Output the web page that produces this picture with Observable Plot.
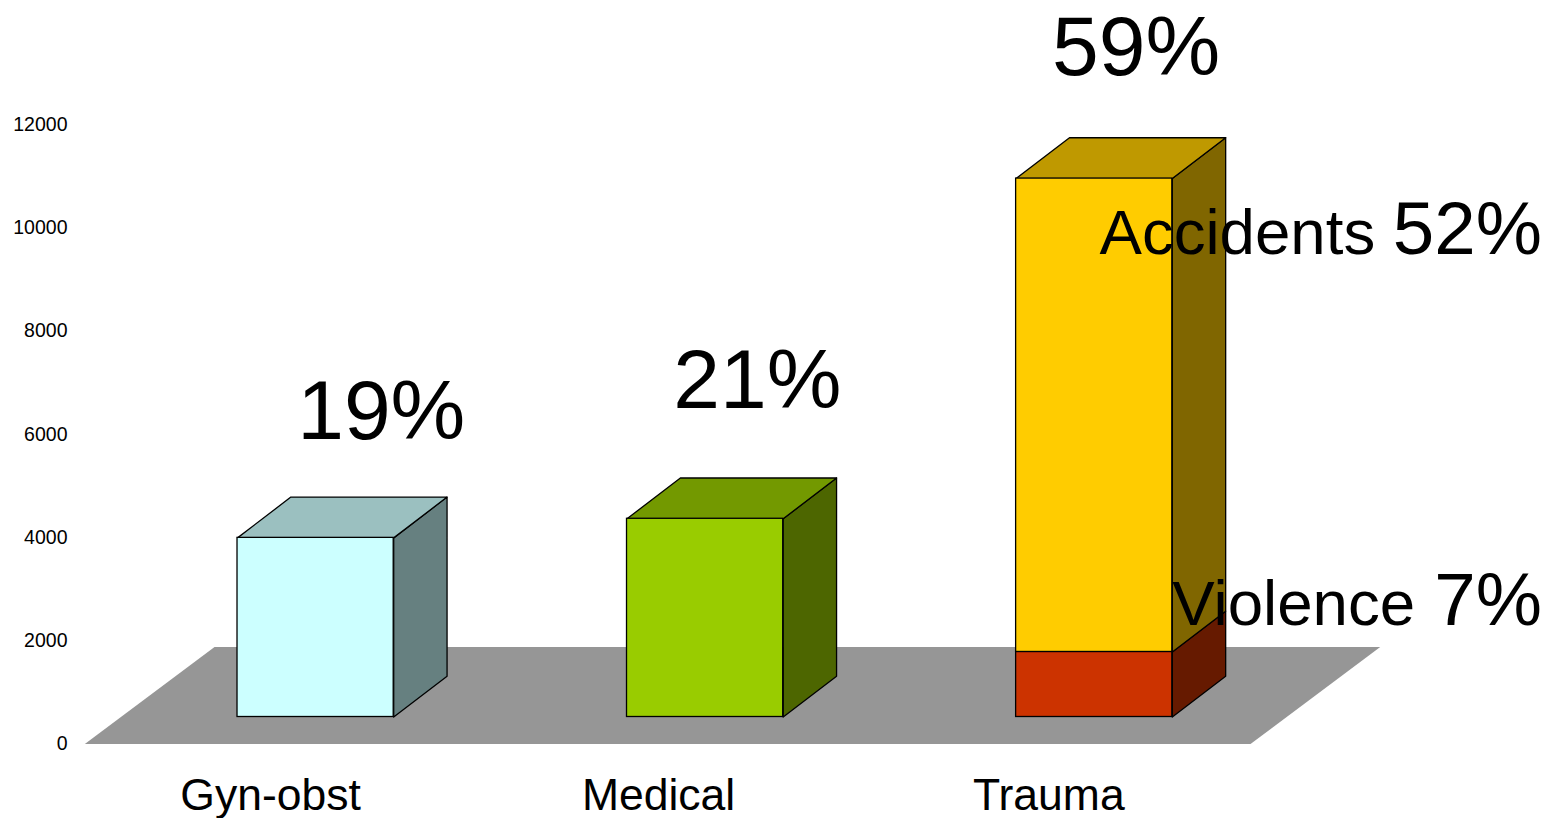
<!DOCTYPE html>
<html>
<head>
<meta charset="utf-8">
<style>html,body{margin:0;padding:0;background:#fff}svg{display:block}</style>
<script src="https://cdn.jsdelivr.net/npm/d3@7"></script>
<script src="https://cdn.jsdelivr.net/npm/@observablehq/plot@0.6"></script>
</head>
<body>
<div id="chart"></div>
<script>
// Data
const categories = ["Gyn-obst", "Medical", "Trauma"];
const gynValues = [3470];
const medicalValues = [3840];
const traumaSegments = ["Violence", "Accidents"];
const traumaValues = [1260, 9170];
const totalShares = ["19%", "21%", "59%"];
const segmentShares = ["7%", "52%"];
const yTicks = [0, 2000, 4000, 6000, 8000, 10000, 12000];

// Colours [front, top, side]
const gynColors = ["#ccffff", "#9bc0c0", "#668080"];
const medicalColors = ["#99cc00", "#739900", "#4d6600"];
const accidentColors = ["#ffcc00", "#bf9900", "#806600"];
const violenceColors = ["#cc3300", "#992600", "#661a00"];
const floorColor = "#969696";

// Projection constants, in scale units (x = category index, y = value)
const barX = [0, 1, 1.999];
const barW = 0.401, depthX = 0.137, depthY = 790, baseY = 523;
const floorX0 = -0.392, floorX1 = 2.6008, floorDX = 0.333, floorDY = 1880;

// Label placement, in scale units
const totalX = [0.369, 1.3345, 2.307];
const totalY = [6437, 7038, 13474];
const categoryX = [0.085, 1.081, 2.083];
const categoryY = -1000;
const wordX = [2.40, 2.213];
const wordY = [2704, 9878];
const shareX = 3.349;
const shareY = [2772, 9946];

const polys = [];
function poly(id, pts, fill) {
  pts.forEach(([x, y]) => polys.push({id, x, y, fill}));
}
poly("floor", [[floorX0,0],[floorX1,0],[floorX1+floorDX,floorDY],[floorX0+floorDX,floorDY],[floorX0,0]], floorColor);

const rects = [];
function box(id, i, y0, y1, colors, showTop) {
  const v0 = baseY + y0, v1 = baseY + y1, x0 = barX[i], x1 = barX[i] + barW;
  poly(id + "-side", [[x1,v0],[x1+depthX,v0+depthY],[x1+depthX,v1+depthY],[x1,v1],[x1,v0]], colors[2]);
  if (showTop) poly(id + "-top", [[x0,v1],[x1,v1],[x1+depthX,v1+depthY],[x0+depthX,v1+depthY],[x0,v1]], colors[1]);
  rects.push({x1: x0, x2: x1, y1: v0, y2: v1, fill: colors[0]});
}
box("gyn", 0, 0, gynValues[0], gynColors, true);
box("med", 1, 0, medicalValues[0], medicalColors, true);
box("vio", 2, 0, traumaValues[0], violenceColors, false);
box("acc", 2, traumaValues[0], traumaValues[0] + traumaValues[1], accidentColors, true);

const font = "Liberation Sans, Arial, sans-serif";
const totalLabels = totalShares.map((t, i) => ({t, x: totalX[i], y: totalY[i]}));
const catLabels = categories.map((t, i) => ({t, x: categoryX[i], y: categoryY}));
const wordLabels = traumaSegments.map((t, i) => ({t, x: wordX[i], y: wordY[i]}));
const shareLabels = segmentShares.map((t, i) => ({t, x: shareX, y: shareY[i]}));

const chart = Plot.plot({
  width: 1555, height: 818,
  marginLeft: 68, marginRight: 0, marginTop: 0, marginBottom: 0,
  style: {background: "#fff", fontFamily: font, overflow: "visible"},
  x: {domain: [-0.6085, 3.3838], range: [0, 1555], axis: null},
  y: {domain: [0, 12000], range: [743.5, 124]},
  marks: [
    Plot.axisY({ticks: yTicks, tickSize: 0, tickPadding: 1, label: null, fontSize: 19.5, fill: "#000", tickFormat: d => String(d)}),
    Plot.line(polys.filter(d => d.id === "floor"), {x: "x", y: "y", z: "id", fill: "fill", stroke: "none", curve: "linear"}),
    Plot.line(polys.filter(d => d.id !== "floor"), {x: "x", y: "y", z: "id", fill: "fill", stroke: "#000", strokeWidth: 1.3, curve: "linear"}),
    Plot.rect(rects, {x1: "x1", x2: "x2", y1: "y1", y2: "y2", fill: "fill", stroke: "#000", strokeWidth: 1.3, inset: 0}),
    Plot.text(totalLabels, {x: "x", y: "y", text: "t", fontSize: 84, fill: "#000"}),
    Plot.text(catLabels, {x: "x", y: "y", text: "t", fontSize: 44.5, fill: "#000"}),
    Plot.text(wordLabels, {x: "x", y: "y", text: "t", fontSize: 63.6, fill: "#000", textAnchor: "start"}),
    Plot.text(shareLabels, {x: "x", y: "y", text: "t", fontSize: 74.5, fill: "#000", textAnchor: "end"})
  ]
});
document.getElementById("chart").append(chart);
</script>
</body>
</html>
